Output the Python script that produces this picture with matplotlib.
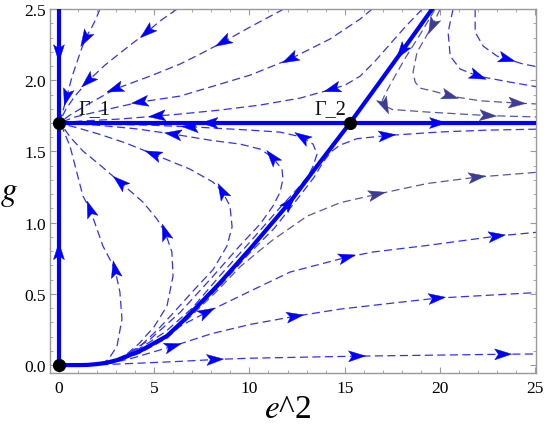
import numpy as np
import matplotlib
matplotlib.use('Agg')
import matplotlib.pyplot as plt
from matplotlib.patches import Polygon
from matplotlib.ticker import MultipleLocator

plt.rcParams['font.family'] = ['Liberation Serif', 'DejaVu Serif']
plt.rcParams['mathtext.fontset'] = 'stix'

# fixed points
fixed_x = [0.0, 0.0, 15.28]
fixed_y = [0.0, 1.70, 1.70]
fixed_labels = ['Γ_1', 'Γ_2']
label_x = [1.05, 13.4]
label_y = [1.77, 1.77]

# thick separatrices (points in flow order)
vert_low = [(0, 0), (0, 1.70)]
vert_low_arrows = [(0, 0.80)]
vert_high = [(0, 2.55), (0, 1.70)]
vert_high_arrows = [(0, 2.19)]
horiz_left = [(15.28, 1.70), (0, 1.70)]
horiz_left_arrows = [(7.9, 1.70)]
horiz_right = [(15.28, 1.70), (25.2, 1.70)]
horiz_right_arrows = [(19.9, 1.70)]
sep_low = [(0, 0), (1.1, 0.0), (1.5, 0.001), (2.0, 0.007), (2.5, 0.016), (3.05, 0.035),
           (4.25, 0.098), (5.67, 0.204), (6.51, 0.309), (8.30, 0.555), (10.03, 0.815),
           (12.13, 1.145), (13.71, 1.426), (15.28, 1.70)]
sep_low_arrows = [(12.1, 1.14)]
sep_high = [(19.75, 2.53), (18.2, 2.24), (16.8, 1.98), (15.28, 1.70)]
sep_high_arrows = [(18.0, 2.20)]

# streamlines flowing into Gamma_1 from above
u1 = [(2.15, 2.50), (1.94, 2.43), (1.73, 2.374), (1.37, 2.29), (1.00, 2.149), (0.68, 2.022),
      (0.42, 1.889), (0.21, 1.784), (0.05, 1.713), (0, 1.70)]
u1_arrows = [(1.37, 2.29), (0.40, 1.88)]
u2 = [(6.2, 2.50), (5.30, 2.416), (4.62, 2.338), (3.47, 2.219), (2.42, 2.107), (1.52, 1.994),
      (0.84, 1.889), (0.37, 1.798), (0.11, 1.728), (0, 1.70)]
u2_arrows = [(4.62, 2.338), (1.52, 1.994)]
u3 = [(11.8, 2.50), (10.03, 2.374), (8.61, 2.268), (7.41, 2.184), (6.36, 2.114), (4.78, 2.029),
      (2.94, 1.938), (1.63, 1.84), (0.58, 1.756), (0, 1.70)]
u3_arrows = [(8.61, 2.268), (2.94, 1.938)]
u4 = [(16.44, 2.50), (15.81, 2.43), (14.23, 2.29), (12.13, 2.149), (10.03, 2.036), (7.93, 1.952),
      (6.36, 1.889), (4.25, 1.847), (2.15, 1.784), (0.84, 1.742), (0, 1.70)]
u4_arrows = [(12.13, 2.149), (4.25, 1.847)]
u5 = [(19.07, 2.50), (18.17, 2.374), (17.38, 2.254), (16.60, 2.135), (15.81, 2.029), (15.02, 1.966),
      (14.34, 1.938), (12.66, 1.875), (10.56, 1.826), (8.46, 1.791), (6.36, 1.763), (5.15, 1.749),
      (3.20, 1.728), (1.10, 1.713), (0, 1.70)]
u5_arrows = [(14.34, 1.938), (5.15, 1.749)]

# streamlines flowing into Gamma_1 from below
l6 = [(2.2, 0.008), (3.3, 0.05), (4.4, 0.13), (5.6, 0.235), (7.0, 0.40), (8.4, 0.62), (10.0, 0.86),
      (11.5, 1.09), (12.6, 1.25), (13.1, 1.33), (13.34, 1.397), (13.55, 1.482), (13.34, 1.552),
      (12.76, 1.601), (11.61, 1.636), (10.03, 1.65), (7.25, 1.671), (4.78, 1.685), (2.15, 1.692), (0, 1.70)]
l6_arrows = [(12.76, 1.601), (6.88, 1.673)]
l5 = [(2.5, 0.01), (3.2, 0.045), (4.78, 0.18), (6.36, 0.37), (7.93, 0.60), (9.51, 0.84), (10.56, 0.99),
      (11.24, 1.117), (11.61, 1.215), (11.76, 1.306), (11.71, 1.376), (11.19, 1.461), (10.56, 1.517),
      (9.51, 1.552), (8.0, 1.578), (6.0, 1.622), (4.0, 1.66), (2.0, 1.685), (0, 1.70)]
l5_arrows = [(11.19, 1.461), (5.99, 1.622)]
l4 = [(2.6, 0.01), (3.3, 0.045), (4.2, 0.125), (5.2, 0.25), (6.1, 0.38), (7.04, 0.52), (8.09, 0.67),
      (8.82, 0.836), (9.09, 0.97), (8.98, 1.117), (8.56, 1.222), (8.09, 1.285), (6.88, 1.376),
      (4.94, 1.482), (3.5, 1.56), (2.15, 1.62), (1.0, 1.665), (0, 1.70)]
l4_arrows = [(8.56, 1.222), (4.94, 1.482)]
l3 = [(2.4, 0.008), (2.9, 0.025), (3.5, 0.07), (4.2, 0.15), (5.0, 0.27), (5.67, 0.414), (5.99, 0.625),
      (5.93, 0.794), (5.57, 0.934), (5.15, 1.025), (4.41, 1.145), (3.20, 1.285), (2.2, 1.40),
      (1.26, 1.503), (0.6, 1.60), (0.25, 1.665), (0, 1.70)]
l3_arrows = [(5.57, 0.934), (3.20, 1.285)]
l2 = [(2.2, 0.005), (2.6, 0.04), (3.05, 0.133), (3.31, 0.323), (3.20, 0.513), (2.94, 0.674),
      (2.31, 0.836), (1.63, 1.095), (1.26, 1.187), (0.58, 1.538), (0.2, 1.66), (0, 1.70)]
l2_arrows = [(2.94, 0.674), (1.63, 1.095)]

# streamlines leaving to the right below g = 1.7
ra = [(2.0, 0.004), (3.05, 0.03), (4.25, 0.09), (5.67, 0.196), (6.51, 0.296), (8.30, 0.535),
      (10.03, 0.79), (11.3, 0.96), (12.6, 1.18), (13.4, 1.32), (13.87, 1.426), (14.3, 1.50),
      (14.76, 1.545), (15.65, 1.59), (17.23, 1.612), (20.0, 1.637), (22.5, 1.65), (25.2, 1.657)]
ra_arrows = [(17.23, 1.612)]
rb = [(2.0, 0.003), (3.05, 0.028), (4.25, 0.088), (5.67, 0.19), (6.51, 0.29), (8.30, 0.52),
      (9.51, 0.69), (10.5, 0.80), (11.24, 0.88), (13.03, 1.046), (14.76, 1.14), (16.7, 1.20),
      (19.33, 1.275), (21.95, 1.32), (25.2, 1.355)]
rb_arrows = [(16.7, 1.20), (21.95, 1.32)]
rc = [(2.0, 0.002), (3.05, 0.025), (4.25, 0.085), (5.67, 0.19), (6.2, 0.262), (7.77, 0.372),
      (9.51, 0.485), (12.13, 0.653), (15.13, 0.758), (16.49, 0.794), (19.33, 0.84), (23.0, 0.906),
      (25.2, 0.934)]
rc_arrows = [(7.77, 0.372), (15.13, 0.758), (23.0, 0.906)]
rd = [(1.8, 0.001), (2.8, 0.015), (3.89, 0.05), (5.99, 0.133), (8.0, 0.22), (10.03, 0.285),
      (12.29, 0.34), (14.76, 0.393), (17.5, 0.435), (19.85, 0.47), (22.5, 0.49), (25.2, 0.51)]
rd_arrows = [(5.99, 0.133), (12.4, 0.342), (19.85, 0.47)]
re_ = [(1.5, 0.0), (2.5, 0.004), (4.0, 0.012), (6.36, 0.026), (8.35, 0.04), (10.03, 0.048),
       (15.81, 0.063), (20.0, 0.07), (23.32, 0.076), (25.2, 0.078)]
re_arrows = [(8.2, 0.04), (15.65, 0.063), (23.32, 0.076)]

# streamlines coming down from the top right
d1 = [(20.01, 2.50), (19.59, 2.38), (18.80, 2.198), (18.59, 2.058), (18.70, 1.987), (18.96, 1.945),
      (19.85, 1.917), (20.54, 1.889), (22.11, 1.856), (24.05, 1.84), (25.2, 1.833)]
d1_arrows = [(19.59, 2.38), (20.54, 1.889), (24.05, 1.84)]
d2 = [(19.75, 2.50), (19.0, 2.33), (18.2, 2.16), (17.6, 2.02), (17.15, 1.91), (16.98, 1.86),
      (17.12, 1.819), (17.5, 1.795), (19.33, 1.777), (22.53, 1.752), (25.2, 1.742)]
d2_arrows = [(17.12, 1.819), (22.53, 1.752)]
d3 = [(20.69, 2.50), (20.43, 2.338), (20.54, 2.17), (21.06, 2.079), (22.01, 2.029), (23.69, 1.987),
      (25.2, 1.952)]
d3_arrows = [(22.01, 2.029)]
d4 = [(21.85, 2.50), (21.85, 2.338), (22.27, 2.24), (23.0, 2.17), (23.53, 2.149), (24.37, 2.114),
      (25.2, 2.093)]
d4_arrows = [(23.53, 2.149)]

BLUE = '#0000ff'
THIN = '#3030ff'
SLATE = '#5656aa'
SLATE_HEAD = '#3d3d96'

fig = plt.figure(figsize=(5.45, 4.39), dpi=100)
ax = fig.add_axes([0.0917, 0.148, 0.8913, 0.829])
ax.set_xlim(-0.47, 25.03)
ax.set_ylim(-0.056, 2.5)


def arrow_head(pts, where, color, length=17, width=11):
    # arrowhead drawn in pixel space along the nearest segment
    disp = ax.transData.transform(np.array(pts, dtype=float))
    pa = ax.transData.transform(np.array(where, dtype=float))
    best = None
    for i in range(len(disp) - 1):
        p0, p1 = disp[i], disp[i + 1]
        seg = p1 - p0
        t = np.clip(np.dot(pa - p0, seg) / np.dot(seg, seg), 0, 1)
        d = np.linalg.norm(p0 + t * seg - pa)
        if best is None or d < best[0]:
            best = (d, seg / np.linalg.norm(seg), p0 + t * seg)
    _, u, c = best
    n = np.array([-u[1], u[0]])
    poly = [c + u * length * 0.5,
            c - u * length * 0.5 + n * width * 0.5,
            c - u * length * 0.28,
            c - u * length * 0.5 - n * width * 0.5]
    poly = ax.transData.inverted().transform(np.array(poly))
    ax.add_patch(Polygon(poly, closed=True, facecolor=color, edgecolor=color, lw=0.3, zorder=5))


def stream(pts, arrows, color, head, lw=0.9, dashed=True, zorder=2):
    xs = [p[0] for p in pts]
    ys = [p[1] for p in pts]
    ls = (0, (6.5, 3.5)) if dashed else '-'
    ax.plot(xs, ys, color=color, lw=lw, ls=ls, zorder=zorder, solid_capstyle='butt')
    for a in arrows:
        arrow_head(pts, a, head)


thin_lines = [
    (u1, u1_arrows, THIN, BLUE), (u2, u2_arrows, THIN, BLUE), (u3, u3_arrows, THIN, BLUE),
    (u4, u4_arrows, THIN, BLUE), (u5, u5_arrows, THIN, BLUE),
    (l6, l6_arrows, THIN, BLUE), (l5, l5_arrows, THIN, BLUE), (l4, l4_arrows, THIN, BLUE),
    (l3, l3_arrows, THIN, BLUE), (l2, l2_arrows, THIN, BLUE),
    (ra, ra_arrows, THIN, BLUE), (rb, rb_arrows, SLATE, SLATE_HEAD), (rc, rc_arrows, THIN, BLUE),
    (rd, rd_arrows, THIN, BLUE), (re_, re_arrows, THIN, BLUE),
    (d1, d1_arrows, SLATE, SLATE_HEAD), (d2, d2_arrows, SLATE, SLATE_HEAD),
    (d3, d3_arrows, THIN, BLUE), (d4, d4_arrows, THIN, BLUE),
]
for pts, arr, col, head in thin_lines:
    stream(pts, arr, col, head)

thick_lines = [
    (vert_low, vert_low_arrows), (vert_high, vert_high_arrows),
    (horiz_left, horiz_left_arrows), (horiz_right, horiz_right_arrows),
    (sep_low, sep_low_arrows), (sep_high, sep_high_arrows),
]
for pts, arr in thick_lines:
    stream(pts, arr, BLUE, BLUE, lw=3.0, dashed=False, zorder=3)

ax.plot(fixed_x, fixed_y, 'o', color='black', ms=8.5, zorder=6, clip_on=False)
for name, lx, ly in zip(fixed_labels, label_x, label_y):
    ax.text(lx, ly, name, fontsize=14.5, color='#111111', zorder=6)

# frame and ticks, Mathematica style
for s in ax.spines.values():
    s.set_color('#9a9a9a')
    s.set_linewidth(1.0)
ax.xaxis.set_major_locator(MultipleLocator(5))
ax.xaxis.set_minor_locator(MultipleLocator(1))
ax.yaxis.set_major_locator(MultipleLocator(0.5))
ax.yaxis.set_minor_locator(MultipleLocator(0.1))
ax.tick_params(which='both', direction='in', top=True, right=True, color='#9a9a9a',
               labelsize=12.5)
ax.tick_params(which='major', length=4.5, width=0.8)
ax.tick_params(which='minor', length=2.5, width=0.6)
ax.tick_params(axis='x', pad=5)
ax.tick_params(axis='y', pad=3)
ax.xaxis.set_major_formatter(matplotlib.ticker.FormatStrFormatter('%d'))
ax.yaxis.set_major_formatter(matplotlib.ticker.FormatStrFormatter('%.1f'))

ax.text(0.49, -0.121, '$e$^2', transform=ax.transAxes, fontsize=24, ha='center', va='baseline')
ax.text(-0.084, 0.478, '$g$', transform=ax.transAxes, fontsize=24, ha='center', va='baseline')

fig.savefig('out.png', dpi=100)
